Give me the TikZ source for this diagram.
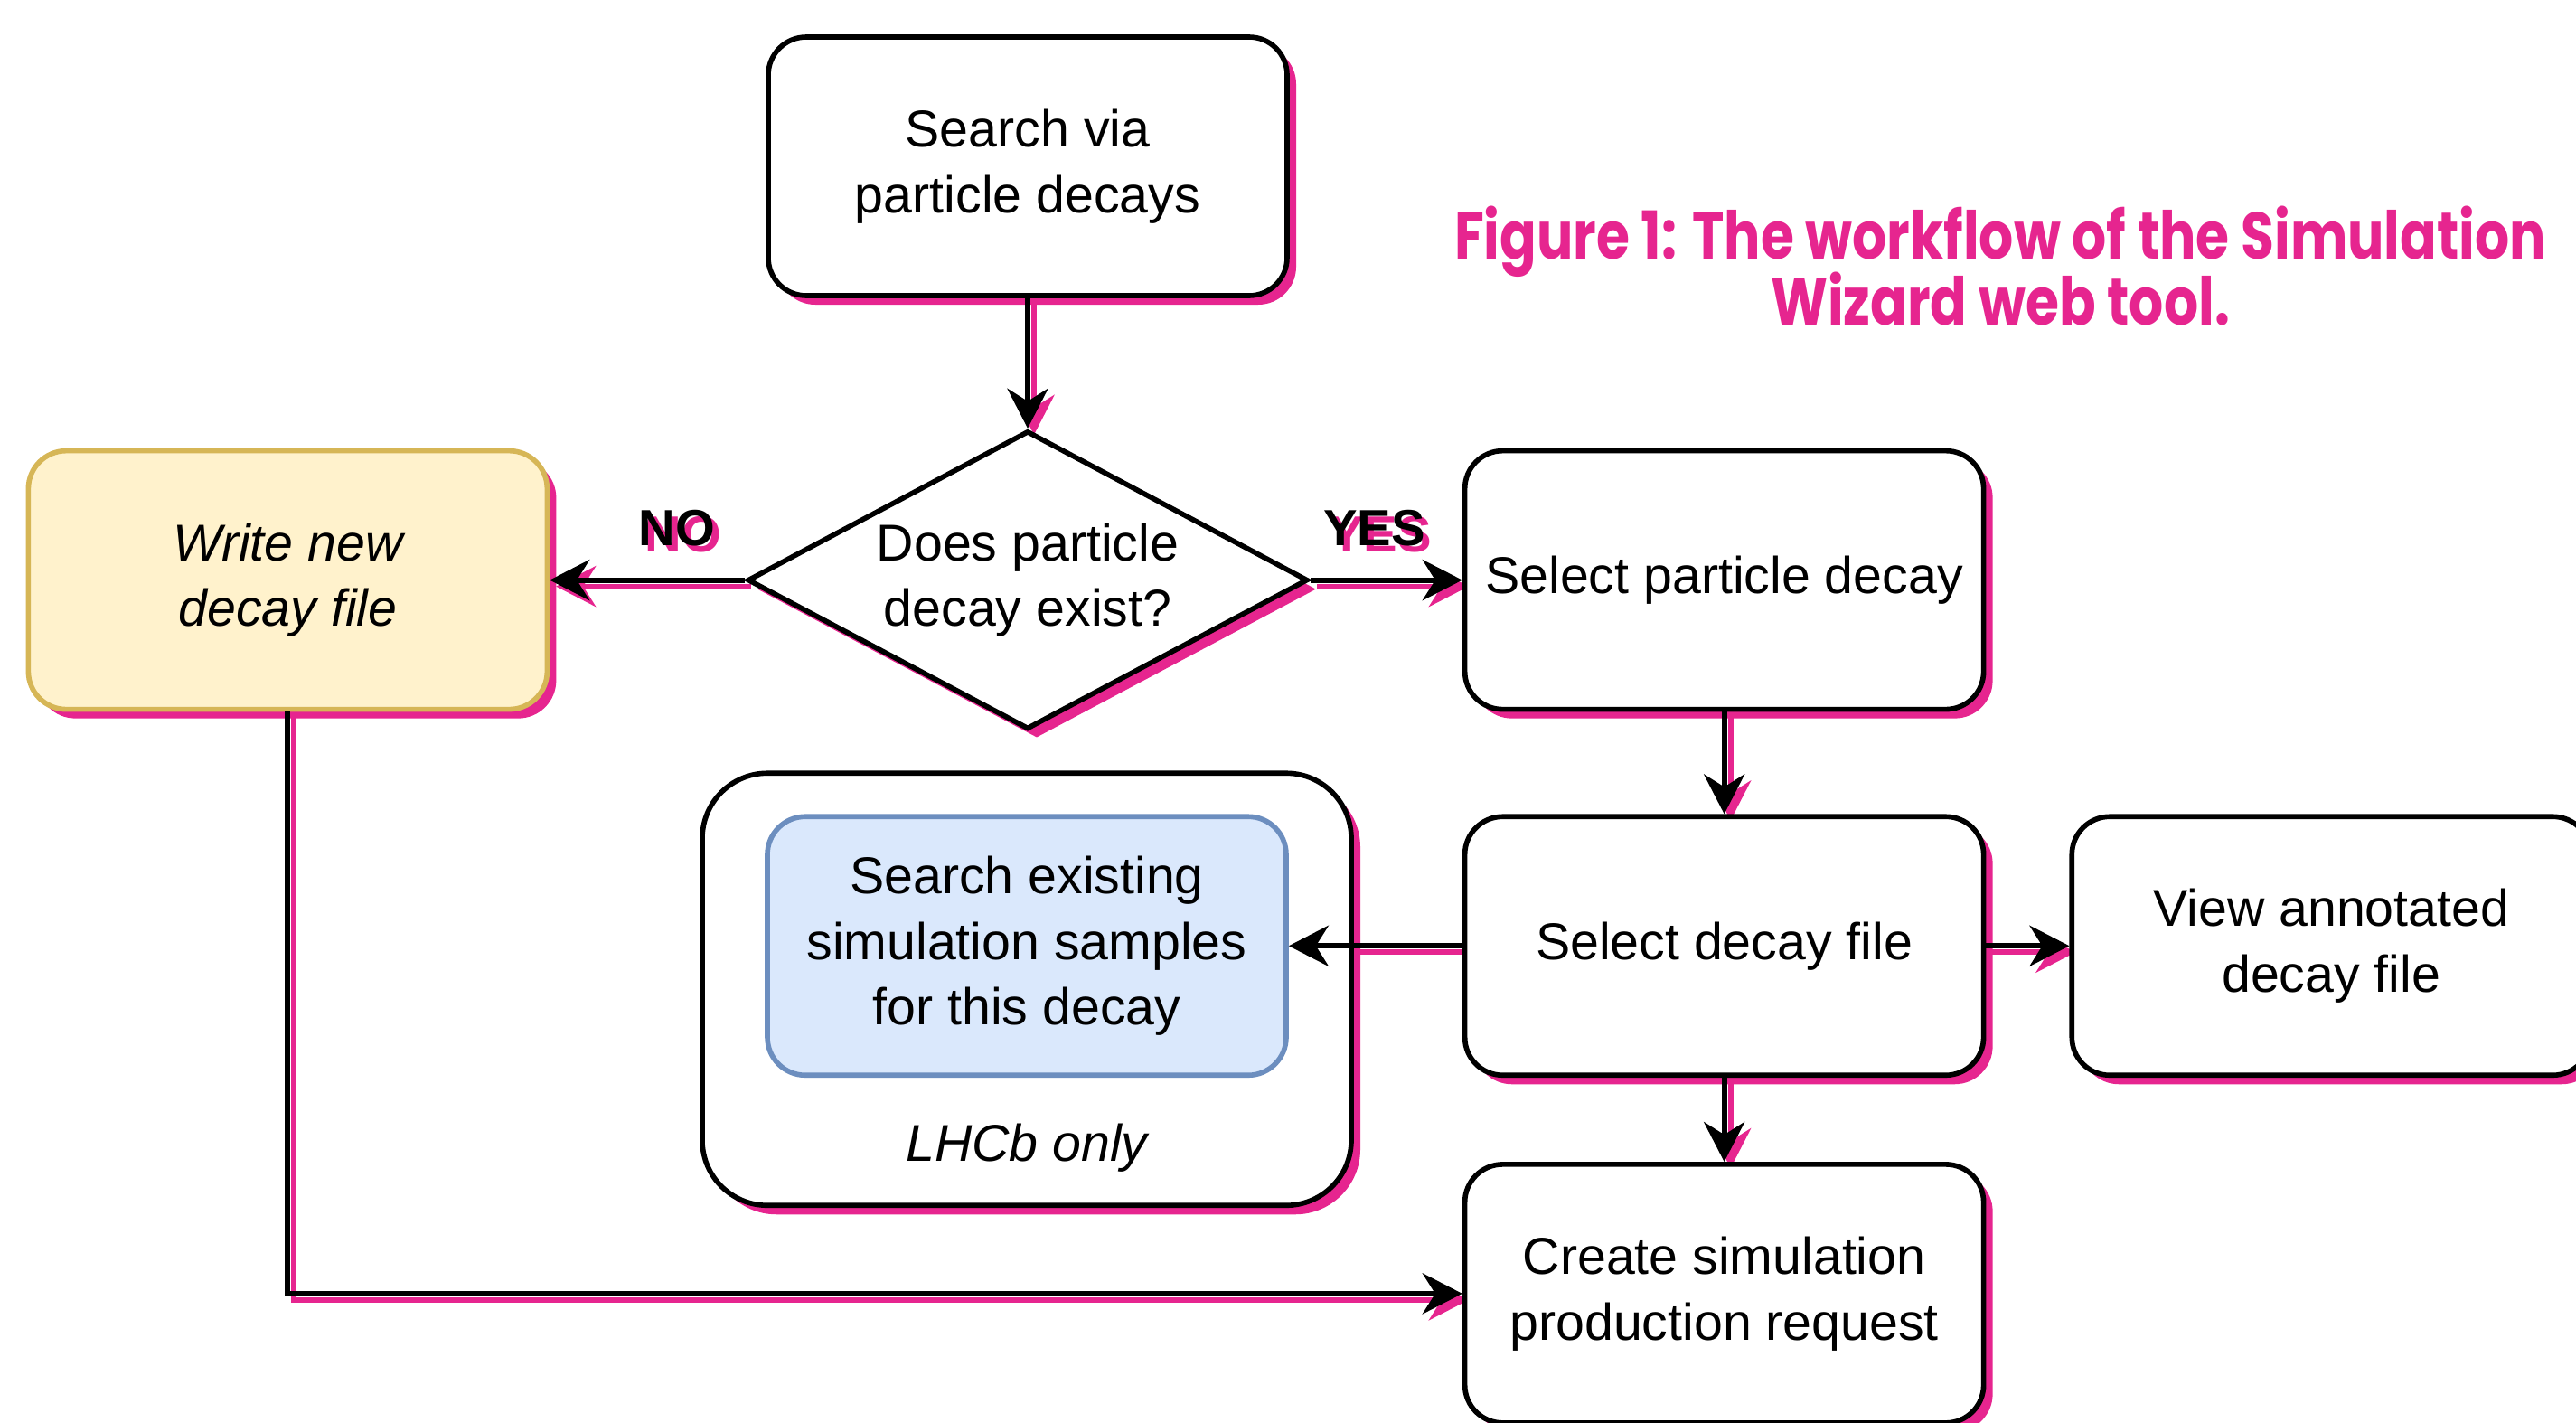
\documentclass[tikz,border=0pt]{standalone}
\usepackage{fontspec}
\setmainfont{Liberation Sans}
\newfontfamily\wiztitle{Poppins}
\usetikzlibrary{positioning,shapes.geometric,shadows,arrows.meta,backgrounds}
\definecolor{wizpink}{HTML}{E6258F}
\definecolor{ownfill}{HTML}{FFF2CC}
\definecolor{owndraw}{HTML}{D6B656}
\definecolor{lhcbfill}{HTML}{DAE8FC}
\definecolor{lhcbdraw}{HTML}{6C8EBF}
\tikzset{
  pinkshadow/.style={drop shadow={shadow xshift=0.1cm,shadow yshift=-0.1cm,fill=wizpink,opacity=1}},
  box/.style={draw,line width=1.6pt,rounded corners=0.42cm,fill=white,minimum width=5.74cm,minimum height=2.86cm,align=center},
  stage/.style={box,pinkshadow},
  query/.style={draw,line width=1.6pt,diamond,aspect=1.88,minimum width=6.2cm,minimum height=3.3cm,inner sep=0pt,fill=white,align=center,pinkshadow},
  group/.style={draw,line width=1.6pt,rounded corners=0.72cm,fill=white,minimum width=7.18cm,minimum height=4.78cm,pinkshadow},
  link/.style={line width=1.7pt,-{Stealth[length=0.44cm,width=0.45cm,inset=0.14cm]}},
  flag/.style={yshift=0.57cm,font=\fontsize{16}{20}\selectfont\bfseries}
}
\newcommand\wizlinks{%
\draw[link] (search) -- (exist);
\draw[link] (exist.west) -- node[flag,pos=0.35]{NO} (write.east);
\draw[link] (exist.east) -- node[flag,pos=0.42]{YES} (selp.west);
\draw[link] (selp) -- (selfile);
\draw[link] (selfile) -- (samples);
\draw[link] (selfile) -- (view);
\draw[link] (selfile) -- (create);
\draw[link] (write.south) |- (create.west);
}

\begin{document}
\begin{tikzpicture}[font=\fontsize{16.3}{20.7}\selectfont]
\useasboundingbox (0,0) rectangle (28.5,-15.73);
\node[stage] (search) at (11.37,-1.84) {Search via\\particle decays};
\node[query, below=1.44cm of search] (exist) {Does particle\\decay exist?};
\node[stage, left=2.16cm of exist, fill=ownfill, draw=owndraw, font=\fontsize{16.3}{20.7}\selectfont\itshape] (write) {Write new\\decay file};
\node[stage, right=1.68cm of exist] (selp) {Select particle decay};
\node[stage, below=1.13cm of selp] (selfile) {Select decay file};
\node[stage, right=0.92cm of selfile] (view) {View annotated\\decay file};
\node[stage, below=0.93cm of selfile] (create) {Create simulation\\production request};
\node[group, left=1.2cm of selfile, yshift=-0.48cm] (lhcb) {};
\node[box, left=1.92cm of selfile, fill=lhcbfill, draw=lhcbdraw] (samples) {Search existing\\simulation samples\\for this decay};
\node[font=\fontsize{16.3}{20.7}\selectfont\itshape] (only) at ([yshift=-0.78cm]samples.south) {LHCb only};
\node[text=wizpink, font=\wiztitle\bfseries\fontsize{20.8}{20.5}\selectfont, align=center] (caption) at (22.13,-2.94)
  {\scalebox{0.82}[1]{Figure 1: The workflow of the Simulation}\\[-0.1cm]\scalebox{0.82}[1]{Wizard web tool.}};
\begin{pgfonlayer}{background}
\begin{scope}[color=wizpink,transform canvas={shift={(0.07,-0.07)}}]
\wizlinks
\end{scope}
\end{pgfonlayer}
\wizlinks
\end{tikzpicture}
\end{document}
